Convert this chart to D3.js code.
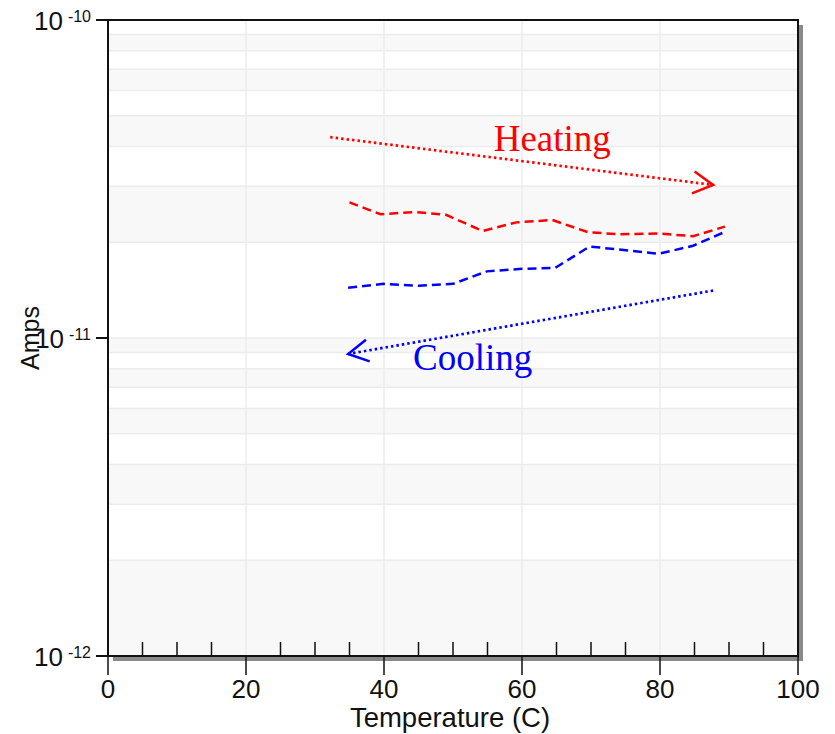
<!DOCTYPE html>
<html>
<head>
<meta charset="utf-8">
<script src="https://cdn.jsdelivr.net/npm/d3@7"></script>
<style>
  body { margin: 0; background: #fff; }
  text { font-family: "Liberation Sans", Arial, sans-serif; fill: #111; }
  .note { font-family: "Liberation Serif", "Times New Roman", serif; }
</style>
</head>
<body>
<script>
// data
const heatTemp = [35, 39.5, 44.5, 49, 54.3, 59.2, 64.4, 69.6, 74.2, 79.8, 84.8, 89.4];
const heatAmps = [2.67e-11, 2.45e-11, 2.49e-11, 2.44e-11, 2.17e-11, 2.31e-11, 2.35e-11, 2.15e-11, 2.12e-11, 2.13e-11, 2.09e-11, 2.24e-11];

const coolTemp = [34.8, 39.9, 45, 50, 54.9, 60, 64.8, 69.8, 79.8, 84.8, 89.7];
const coolAmps = [1.44e-11, 1.48e-11, 1.46e-11, 1.48e-11, 1.62e-11, 1.65e-11, 1.66e-11, 1.94e-11, 1.84e-11, 1.95e-11, 2.17e-11];

// arrows (start, end) in data units
const heatArrow = [[32.2, 4.28e-11], [87.7, 3.03e-11]];
const coolArrow = [[87.7, 1.41e-11], [34.8, 8.91e-12]];

const xMajor = [0, 20, 40, 60, 80, 100];
const xMinor = [5, 10, 15, 25, 30, 35, 45, 50, 55, 65, 70, 75, 85, 90, 95];
const yDecades = [1e-12, 1e-11, 1e-10];
const yExponents = ["-12", "-11", "-10"];
const yMinorMult = [1, 2, 3, 4, 5, 6, 7, 8, 9];

const body = d3.select("body");
const svg = body.append("svg")
    .attr("width", 835)
    .attr("height", 734);

const pLeft = 108, pRight = 798, pTop = 20, pBottom = 656;

const x = d3.scaleLinear().domain([0, 100]).range([pLeft, pRight]);
const y = d3.scaleLog().domain([1e-12, 1e-10]).range([pBottom, pTop]);

// shadow + plot background
svg.append("rect")
    .attr("x", pLeft + 5).attr("y", pTop + 5)
    .attr("width", pRight - pLeft).attr("height", pBottom - pTop)
    .attr("fill", "#8a8a8a");
svg.append("rect")
    .attr("x", pLeft).attr("y", pTop)
    .attr("width", pRight - pLeft).attr("height", pBottom - pTop)
    .attr("fill", "#fff");

// alternating bands between log grid lines
const gridVals = [];
[1e-12, 1e-11].forEach(dec => yMinorMult.forEach(m => gridVals.push(dec * m)));
gridVals.push(1e-10);

const bands = d3.pairs(gridVals).filter((d, i) => i % 2 === 0);
svg.append("g").selectAll("rect")
    .data(bands)
    .join("rect")
    .attr("x", pLeft)
    .attr("y", d => y(d[1]))
    .attr("width", pRight - pLeft)
    .attr("height", d => y(d[0]) - y(d[1]))
    .attr("fill", "#f8f8f8");

svg.append("g").selectAll("line")
    .data(gridVals)
    .join("line")
    .attr("x1", pLeft).attr("x2", pRight)
    .attr("y1", d => y(d)).attr("y2", d => y(d))
    .attr("stroke", "#ececec")
    .attr("stroke-width", 1.5);

svg.append("g").selectAll("line")
    .data(xMajor.slice(1, -1))
    .join("line")
    .attr("x1", d => x(d)).attr("x2", d => x(d))
    .attr("y1", pTop).attr("y2", pBottom)
    .attr("stroke", "#ececec")
    .attr("stroke-width", 1.5);

// arrow heads
const defs = svg.append("defs");
[["head-red", "red"], ["head-blue", "blue"]].forEach(([id, c]) => {
    defs.append("marker")
        .attr("id", id)
        .attr("markerUnits", "userSpaceOnUse")
        .attr("viewBox", "-24 -14 28 28")
        .attr("markerWidth", 28).attr("markerHeight", 28)
        .attr("refX", 0).attr("refY", 0)
        .attr("orient", "auto")
        .append("path")
        .attr("d", "M-20,-11L0,0L-20,11")
        .attr("fill", "none")
        .attr("stroke", c)
        .attr("stroke-width", 2.5);
});

const line = d3.line().x(d => x(d[0])).y(d => y(d[1]));

svg.append("path")
    .datum(heatArrow)
    .attr("d", line)
    .attr("fill", "none")
    .attr("stroke", "red")
    .attr("stroke-width", 2.7)
    .attr("stroke-dasharray", "2.5,3")
    .attr("marker-end", "url(#head-red)");

svg.append("path")
    .datum(coolArrow)
    .attr("d", line)
    .attr("fill", "none")
    .attr("stroke", "blue")
    .attr("stroke-width", 2.7)
    .attr("stroke-dasharray", "2.5,3")
    .attr("marker-end", "url(#head-blue)");

// measured curves
svg.append("path")
    .datum(d3.zip(heatTemp, heatAmps))
    .attr("d", line)
    .attr("fill", "none")
    .attr("stroke", "red")
    .attr("stroke-width", 2.5)
    .attr("stroke-dasharray", "9,5");

svg.append("path")
    .datum(d3.zip(coolTemp, coolAmps))
    .attr("d", line)
    .attr("fill", "none")
    .attr("stroke", "blue")
    .attr("stroke-width", 2.5)
    .attr("stroke-dasharray", "9,5");

// annotations
svg.append("text")
    .attr("class", "note")
    .attr("x", x(55.9)).attr("y", y(3.87e-11))
    .attr("font-size", 37)
    .style("fill", "red")
    .text("Heating");

svg.append("text")
    .attr("class", "note")
    .attr("x", x(44.2)).attr("y", y(7.93e-12))
    .attr("font-size", 37)
    .style("fill", "blue")
    .text("Cooling");

// frame
svg.append("rect")
    .attr("x", pLeft).attr("y", pTop)
    .attr("width", pRight - pLeft).attr("height", pBottom - pTop)
    .attr("fill", "none")
    .attr("stroke", "#111")
    .attr("stroke-width", 2);

// x ticks
svg.append("g").selectAll("line")
    .data(xMinor)
    .join("line")
    .attr("x1", d => x(d)).attr("x2", d => x(d))
    .attr("y1", pBottom).attr("y2", pBottom - 14)
    .attr("stroke", "#111").attr("stroke-width", 1.5);

svg.append("g").selectAll("line")
    .data(xMajor)
    .join("line")
    .attr("x1", d => x(d)).attr("x2", d => x(d))
    .attr("y1", pBottom).attr("y2", pBottom + 19)
    .attr("stroke", "#111").attr("stroke-width", 1.5);

svg.append("g").selectAll("text")
    .data(xMajor)
    .join("text")
    .attr("x", d => x(d))
    .attr("y", pBottom + 42)
    .attr("text-anchor", "middle")
    .attr("font-size", 26)
    .text(d => d);

// y ticks
svg.append("g").selectAll("line")
    .data(yDecades)
    .join("line")
    .attr("x1", pLeft - 12).attr("x2", pLeft)
    .attr("y1", d => y(d)).attr("y2", d => y(d))
    .attr("stroke", "#111").attr("stroke-width", 2);

const yLabels = svg.append("g").selectAll("text")
    .data(yDecades)
    .join("text")
    .attr("x", pLeft - 17)
    .attr("y", d => y(d) + 9.5)
    .attr("text-anchor", "end");
yLabels.append("tspan")
    .attr("font-size", 26)
    .text("10");
yLabels.append("tspan")
    .attr("font-size", 16)
    .attr("dx", 5)
    .attr("dy", -8)
    .text((d, i) => yExponents[i]);

// axis titles
svg.append("text")
    .attr("x", (pLeft + pRight) / 2 - 3)
    .attr("y", 727)
    .attr("text-anchor", "middle")
    .attr("font-size", 27.5)
    .text("Temperature (C)");

svg.append("text")
    .attr("transform", `translate(39, ${(pTop + pBottom) / 2}) rotate(-90)`)
    .attr("text-anchor", "middle")
    .attr("font-size", 25)
    .text("Amps");
</script>
</body>
</html>
